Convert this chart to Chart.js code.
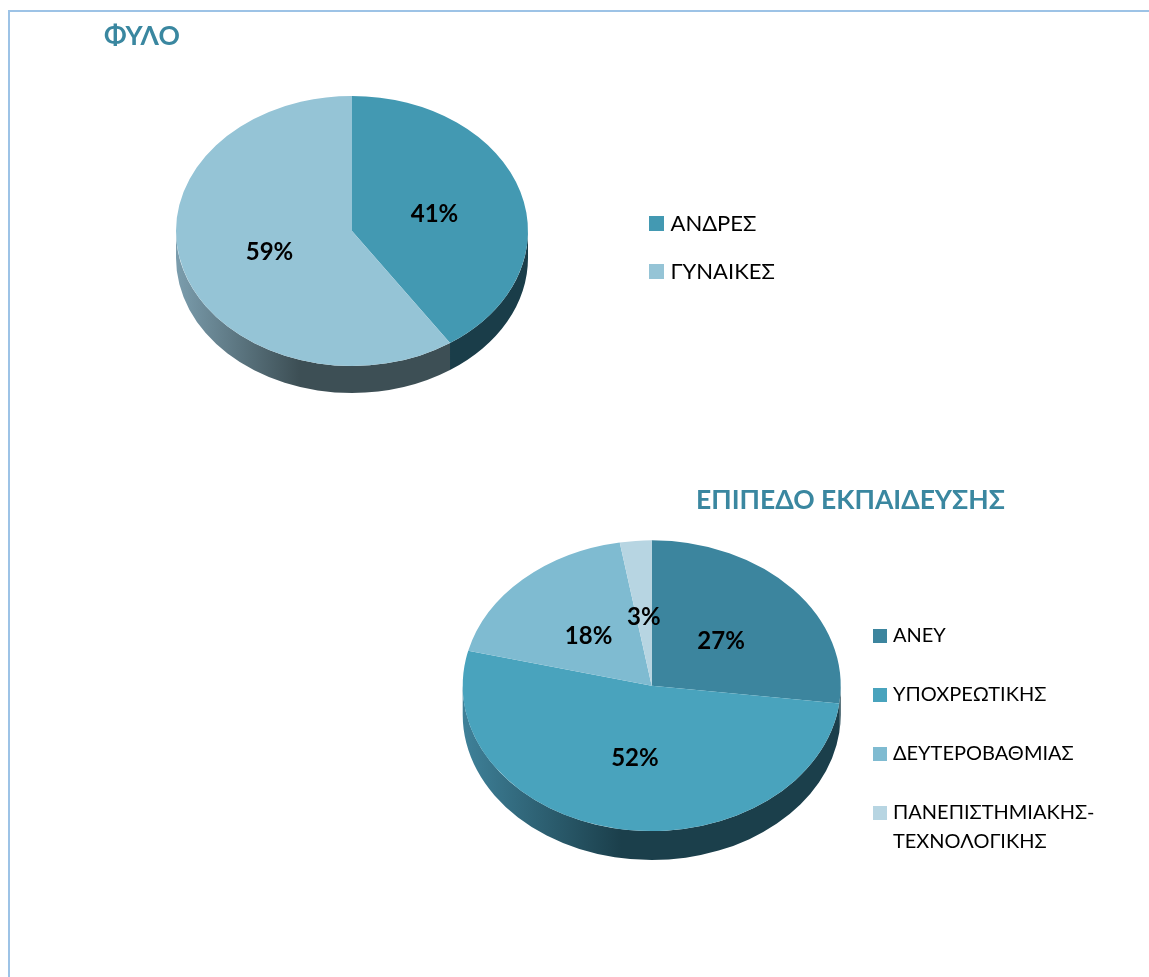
<!DOCTYPE html>
<html><head><meta charset="utf-8">
<script src="https://cdn.jsdelivr.net/npm/chart.js@4"></script>
<style>
html,body{margin:0;padding:0;background:#fff;width:1149px;height:977px;overflow:hidden}
canvas{position:absolute;left:0}
#frame{position:absolute;left:8px;top:10px;right:0;bottom:0;border-left:2px solid #9dc3e6;border-top:2px solid #9dc3e6}
</style></head><body>
<div id="frame"></div>
<canvas id="c1" width="1149" height="470" style="top:0"></canvas>
<canvas id="c2" width="1149" height="497" style="top:480px"></canvas>
<script>
const genderLabels = ['ΑΝΔΡΕΣ','ΓΥΝΑΙΚΕΣ'];
const genderValues = [40.6,59.4];
const genderColors = ['#4399b2','#95c4d6'];
const eduLabels = ['ΑΝΕΥ','ΥΠΟΧΡΕΩΤΙΚΗΣ','ΔΕΥΤΕΡΟΒΑΘΜΙΑΣ',['ΠΑΝΕΠΙΣΤΗΜΙΑΚΗΣ-','ΤΕΧΝΟΛΟΓΙΚΗΣ']];
const eduValues = [26.9,51.8,18.4,2.7];
const eduColors = ['#3c859e','#49a3bd','#7fbbd1','#b7d5e2'];
const FONT = 'Lato, "Open Sans", sans-serif';

const pie3d = {
  id:'pie3d',
  afterLayout(chart,args,o){
    const {cx,cy,r}=o;
    chart.chartArea={left:cx-r,right:cx+r,top:cy-r,bottom:cy+r,width:2*r,height:2*r};
    const L=chart.legend, T=chart.titleBlock;
    L.left=o.legendX; L.right=chart.width; L.top=o.legendY; L.bottom=chart.height;
    T.left=o.titleX; T.right=chart.width; T.top=o.titleY; T.bottom=o.titleY+40;
  },
  beforeDatasetsDraw(chart,args,o){
    const ctx=chart.ctx, arcs=chart.getDatasetMeta(0).data;
    const {k,depth}=o;
    arcs.forEach((a,i)=>{
      const s=o.walls[i]; if(!s) return;
      const a0=Math.max(a.startAngle,0), a1=Math.min(a.endAngle,Math.PI);
      if(a1<=a0) return;
      const R=a.outerRadius, g=ctx.createLinearGradient(a.x-R,0,a.x+R,0);
      s.forEach(st=>g.addColorStop(st[0],st[1]));
      ctx.beginPath();
      ctx.ellipse(a.x,a.y,R,R*k,0,a0,a1);
      ctx.ellipse(a.x,a.y+depth,R,R*k,0,a1,a0,true);
      ctx.closePath();
      ctx.fillStyle=g; ctx.fill();
    });
    const a=arcs[0];
    ctx.save();
    ctx.translate(a.x,a.y); ctx.scale(1,k); ctx.translate(-a.x,-a.y);
  },
  afterDatasetsDraw(chart,args,o){
    const ctx=chart.ctx; ctx.restore();
    const arcs=chart.getDatasetMeta(0).data, vals=chart.data.datasets[0].data;
    ctx.save();
    ctx.font='bold '+o.valueSize+'px '+FONT;
    ctx.fillStyle='#000'; ctx.textAlign='center'; ctx.textBaseline='middle';
    arcs.forEach((a,i)=>{
      const m=(a.startAngle+a.endAngle)/2, d=a.outerRadius*0.49;
      ctx.fillText(Math.round(vals[i])+'%',a.x+Math.cos(m)*d,a.y+Math.sin(m)*d*o.k+2.5);
    });
    ctx.restore();
  }
};

function build(id,labels,values,colors,titleText,place,legendPad,legendBox,legendSize){
  return new Chart(document.getElementById(id),{
    type:'pie',
    data:{labels:labels,datasets:[{data:values,backgroundColor:colors,borderWidth:0,hoverOffset:0}]},
    plugins:[pie3d],
    options:{
      responsive:false,animation:false,
      layout:{padding:0},
      plugins:{
        tooltip:{enabled:false},
        title:{display:true,text:titleText,align:'start',color:'#3a87a0',padding:0,font:{family:FONT,size:place.titleSize,weight:'bold',lineHeight:1.2}},
        legend:{display:true,position:'right',align:'start',
          labels:{color:'#111',padding:legendPad,boxWidth:legendBox.w,boxHeight:legendBox.w,
            font:{family:FONT,size:legendSize,lineHeight:'29px'},
            generateLabels(c){
              return c.data.labels.map((t,i)=>({text:t,fillStyle:colors[i],strokeStyle:colors[i],lineWidth:legendBox.lw,index:i}));
            }}},
        pie3d:place
      }
    }
  });
}

build('c1',genderLabels,genderValues,genderColors,'ΦΥΛΟ',
  {cx:352,cy:231,r:176,k:0.767,depth:27,legendX:627.5,legendY:186.5,titleX:104,titleY:21,titleSize:26.5,valueSize:24,
   walls:[[[0,'#1a3d49'],[1,'#1a3d49']],[[0,'#7b9dad'],[0.35,'#3d4f55'],[1,'#3d4f55']]]},
  26,{w:6,lw:9},22);
build('c2',eduLabels,eduValues,eduColors,'ΕΠΙΠΕΔΟ ΕΚΠΑΙΔΕΥΣΗΣ',
  {cx:651.7,cy:205.7,r:189,k:0.769,depth:29,legendX:838,legendY:107,titleX:696,titleY:5,titleSize:26.5,valueSize:24,
   walls:[[[0,'#1b3f4b'],[1,'#1b3f4b']],[[0,'#3f8199'],[0.42,'#1b3f4b'],[1,'#1b3f4b']]]},
  39,{w:6,lw:8},20);
</script>
</body></html>
